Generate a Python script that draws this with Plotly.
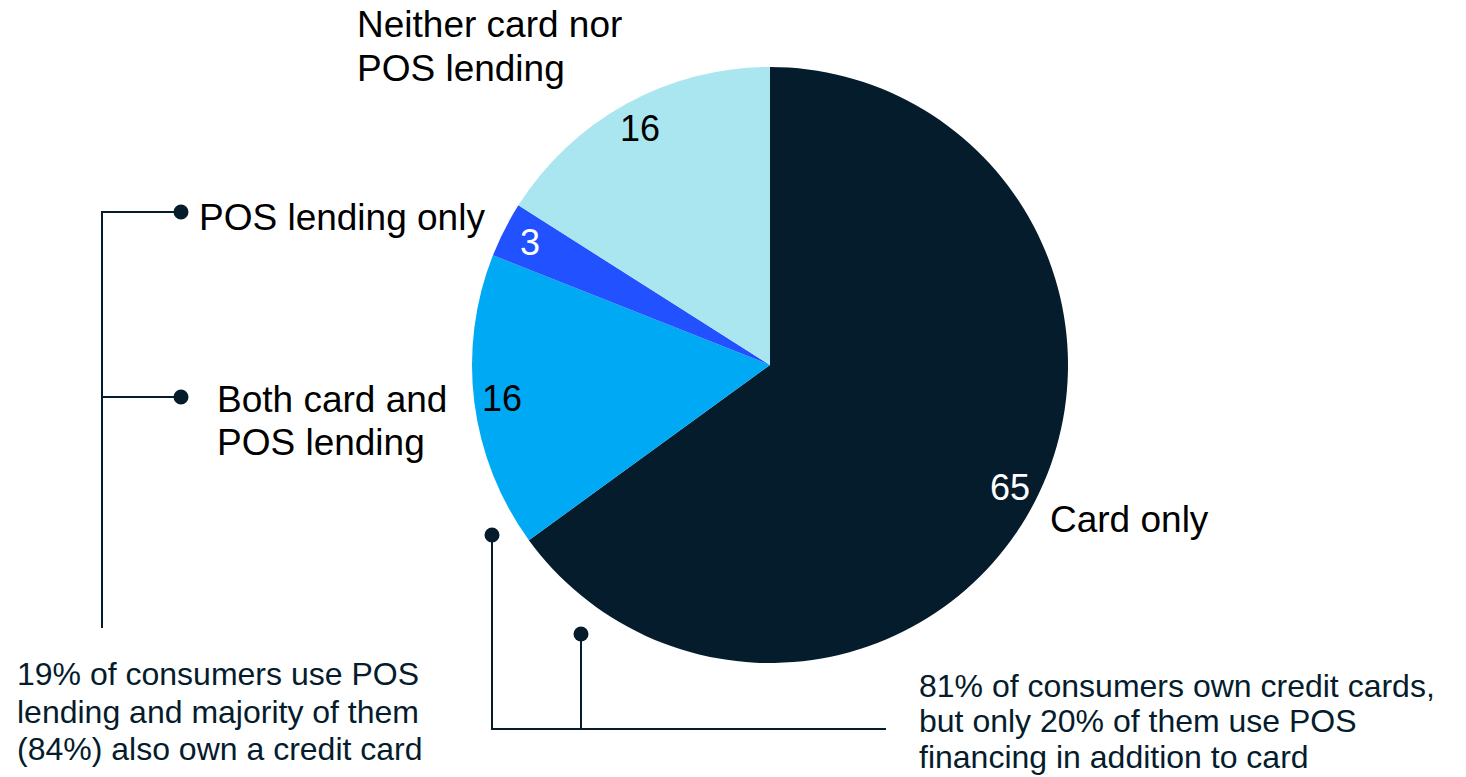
import math
import plotly.graph_objects as go

# Consumer split (%) by credit product ownership
categories = ["Card only", "Both card and POS lending", "POS lending only",
              "Neither card nor POS lending"]
shares = [65, 16, 3, 16]
slice_colors = ["#051c2c", "#00a9f4", "#2251ff", "#aae6f0"]
value_text_colors = ["#ffffff", "#000000", "#ffffff", "#000000"]

W, H = 1466, 777
CX, CY, R = 770, 365, 298          # pie centre / radius in page pixels
INK = "#051c2c"
FONT = "Arial, Liberation Sans, sans-serif"


def px(x):
    return x / W


def py(y):
    return 1 - y / H


fig = go.Figure()
fig.add_trace(go.Pie(
    labels=categories,
    values=shares,
    sort=False,
    direction="clockwise",
    rotation=0,
    marker=dict(colors=slice_colors, line=dict(width=0)),
    textinfo="none",
    hoverinfo="label+value",
    domain=dict(x=[px(CX - R), px(CX + R)], y=[py(CY + R), py(CY - R)]),
))

annotations = []

# Value labels near the rim, at each slice's mid angle
total = sum(shares)
cum = 0
for v, tc in zip(shares, value_text_colors):
    mid = (cum + v / 2) / total * 2 * math.pi
    cum += v
    r = 0.905 * R
    x = CX + r * math.sin(mid)
    y = CY - r * math.cos(mid)
    annotations.append(dict(x=px(x), y=py(y), xref="paper", yref="paper",
                            text=str(v), showarrow=False,
                            xanchor="center", yanchor="middle",
                            font=dict(family=FONT, size=36, color=tc)))


def label(lines, x, ys, size, color):
    for t, y in zip(lines, ys):
        annotations.append(dict(x=px(x), y=py(y), xref="paper", yref="paper",
                                text=t, showarrow=False,
                                xanchor="left", yanchor="middle",
                                font=dict(family=FONT, size=size, color=color)))


label(["Neither card nor", "POS lending"], 355, [24, 68], 37, "#000000")
label(["POS lending only"], 197, [217], 37, "#000000")
label(["Both card and", "POS lending"], 215, [399, 442], 37, "#000000")
label(["Card only"], 1048, [519], 37, "#000000")
label(["19% of consumers use POS", "lending and majority of them",
       "(84%) also own a credit card"], 15, [674, 712, 749], 32, INK)
label(["81% of consumers own credit cards,", "but only 20% of them use POS",
       "financing in addition to card"], 917, [686, 721, 757], 32, INK)

shapes = []


def seg(x0, y0, x1, y1):
    shapes.append(dict(type="line", xref="paper", yref="paper",
                       x0=px(x0), y0=py(y0), x1=px(x1), y1=py(y1),
                       line=dict(color=INK, width=2)))


def dot(cx, cy, r=7.5):
    shapes.append(dict(type="circle", xref="paper", yref="paper",
                       x0=px(cx - r), x1=px(cx + r), y0=py(cy + r), y1=py(cy - r),
                       fillcolor=INK, line=dict(width=0)))


# Left bracket: POS users
seg(102, 212, 102, 628)
seg(101, 212, 181, 212)
seg(101, 397, 181, 397)
dot(181, 212)
dot(181, 397)

# Bottom bracket: card owners
seg(492, 535, 492, 729)
seg(581, 634, 581, 729)
seg(491, 729, 886, 729)
dot(492, 535)
dot(581, 634)

fig.update_layout(
    width=W, height=H,
    margin=dict(l=0, r=0, t=0, b=0),
    paper_bgcolor="white",
    plot_bgcolor="white",
    showlegend=False,
    annotations=annotations,
    shapes=shapes,
)

fig.write_html("out.html")
